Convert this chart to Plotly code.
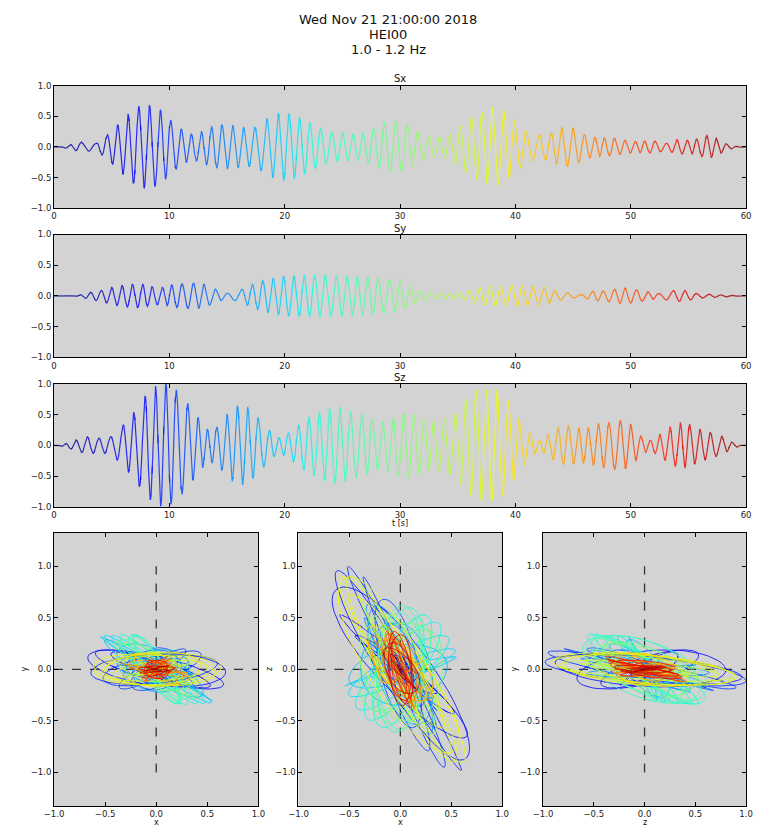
import numpy as np
import plotly.graph_objects as go

# ---------------- data ----------------
TITLE_LINES = ["Wed Nov 21 21:00:00 2018", "HEI00", "1.0 - 1.2 Hz"]
PANEL_TITLES = ["Sx", "Sy", "Sz"]
T_TICKS = [0, 10, 20, 30, 40, 50, 60]
AMP_TICKS = [-1.0, -0.5, 0.0, 0.5, 1.0]

# times [s] and heights of successive positive peaks of each component
SX_PEAK_T = [0.5, 1.41, 2.35, 3.67, 4.61, 5.51, 6.42, 7.35, 8.28, 9.24, 10.12, 11.05, 11.9, 12.78,
             13.66, 14.56, 15.5, 16.43, 17.41, 18.46, 19.45, 20.38, 21.29, 22.19, 23.12, 24.09,
             25.02, 25.93, 26.78, 27.71, 28.64, 29.63, 30.62, 31.5, 32.5, 33.4, 34.3, 35.2, 36.2,
             37.1, 38.0, 39.0, 39.9, 40.9, 42.1, 43.1, 44.0, 45.0, 46.0, 46.9, 47.7, 48.6, 49.5,
             50.4, 51.2, 52.1, 53.1, 54.0, 54.9, 55.7, 56.6, 57.4, 58.3, 59.2, 60.1]
SX_PEAK_A = [0.0, 0.04, 0.08, 0.06, 0.2, 0.36, 0.53, 0.66, 0.68, 0.6, 0.44, 0.29, 0.21, 0.25,
             0.33, 0.36, 0.35, 0.32, 0.32, 0.46, 0.55, 0.54, 0.48, 0.4, 0.31, 0.24,
             0.23, 0.22, 0.23, 0.3, 0.4, 0.42, 0.38, 0.25, 0.17, 0.16, 0.2, 0.35, 0.5,
             0.56, 0.64, 0.58, 0.43, 0.26, 0.2, 0.23, 0.32, 0.31, 0.2, 0.16, 0.15, 0.14, 0.11,
             0.09, 0.1, 0.1, 0.06, 0.12, 0.11, 0.13, 0.19, 0.15, 0.05, 0.01, 0.0]

SY_PEAK_T = [1.3, 2.26, 3.17, 4.1, 5.0, 5.9, 6.8, 7.7, 8.5, 9.4, 10.2, 11.1, 12.1, 13.0, 14.0,
             15.0, 16.3, 17.2, 18.1, 19.0, 19.9, 20.8, 21.7, 22.6, 23.5, 24.5, 25.4, 26.3, 27.2,
             28.1, 29.1, 30.0, 30.9, 31.7, 32.6, 33.5, 34.3, 35.2, 36.0, 36.9, 37.8, 38.7, 39.7,
             40.6, 41.5, 42.5, 43.4, 44.5, 45.7, 46.7, 47.6, 48.6, 49.5, 50.5, 51.5, 52.4, 53.7,
             54.7, 55.7, 56.8, 57.8, 58.8, 59.8]
SY_PEAK_A = [0.0, 0.02, 0.06, 0.09, 0.14, 0.17, 0.19, 0.19, 0.15, 0.14, 0.18, 0.2, 0.21, 0.19, 0.11,
             0.04, 0.11, 0.19, 0.25, 0.29, 0.32, 0.33, 0.33, 0.34, 0.34, 0.33, 0.33, 0.32, 0.3,
             0.29, 0.27, 0.25, 0.16, 0.08, 0.05, 0.05, 0.05, 0.06, 0.09, 0.14, 0.16, 0.15, 0.17,
             0.16, 0.15, 0.14, 0.09, 0.05, 0.02, 0.08, 0.08, 0.11, 0.13, 0.1, 0.07, 0.04, 0.09,
             0.09, 0.04, 0.03, 0.02, 0.01, 0.0]

SZ_PEAK_T = [0.3, 1.0, 1.9, 2.9, 3.9, 4.9, 6.0, 6.9, 7.9, 8.8, 9.7, 10.6, 11.6, 12.5, 13.3, 14.1,
             15.0, 15.9, 16.8, 17.7, 18.7, 19.5, 20.3, 21.2, 22.1, 23.0, 23.9, 24.8, 25.7, 26.7,
             27.6, 28.5, 29.4, 30.3, 31.2, 32.1, 32.9, 33.8, 34.8, 35.7, 36.6, 37.5, 38.4, 39.4,
             40.3, 41.3, 42.1, 42.8, 43.7, 44.6, 45.5, 46.3, 47.2, 48.1, 49.1, 50.0, 50.9, 51.7,
             52.5, 53.4, 54.3, 55.1, 56.0, 56.9, 57.9, 58.8, 59.7]
SZ_PEAK_A = [0.0, 0.03, 0.09, 0.14, 0.12, 0.14, 0.33, 0.53, 0.8, 0.96, 1.0, 0.9, 0.68, 0.45, 0.26, 0.3,
             0.5, 0.64, 0.62, 0.45, 0.24, 0.12, 0.2, 0.33, 0.46, 0.53, 0.6, 0.62, 0.55, 0.5,
             0.43, 0.38, 0.45, 0.54, 0.51, 0.43, 0.39, 0.44, 0.52, 0.74, 0.9, 0.9, 0.9, 0.72,
             0.42, 0.2, 0.07, 0.18, 0.29, 0.32, 0.28, 0.29, 0.35, 0.37, 0.41, 0.34, 0.15, 0.08,
             0.18, 0.3, 0.37, 0.34, 0.26, 0.21, 0.15, 0.05, 0.0]

CROSS = [-1.0, 1.0]       # dashed reference axes in the hodograms
ZERO = [0.0, 0.0]

# ---------------- helpers ----------------
W, H = 771, 832
T_END = 60.0
DT = 0.02
N_SEG = 120

JET_R = ([0.0, 0.35, 0.66, 0.89, 1.0], [0.0, 0.0, 1.0, 1.0, 0.5])
JET_G = ([0.0, 0.125, 0.375, 0.64, 0.91, 1.0], [0.0, 0.0, 1.0, 1.0, 0.0, 0.0])
JET_B = ([0.0, 0.11, 0.34, 0.65, 1.0], [0.5, 1.0, 1.0, 0.0, 0.0])


def jet(v):
    r = np.interp(v, *JET_R)
    g = np.interp(v, *JET_G)
    b = np.interp(v, *JET_B)
    return "rgb(%d,%d,%d)" % (round(r * 255), round(g * 255), round(b * 255))


def waveform(peak_t, peak_a, t):
    """oscillation passing through the read peak heights at the read peak times"""
    cyc = np.interp(t, peak_t, np.arange(len(peak_t)))
    env = np.interp(t, peak_t, peak_a)
    return env * np.cos(2 * np.pi * cyc)


t = np.arange(0, T_END + DT / 2, DT)
sx = waveform(SX_PEAK_T, SX_PEAK_A, t)
sy = waveform(SY_PEAK_T, SY_PEAK_A, t)
sz = waveform(SZ_PEAK_T, SZ_PEAK_A, t)


def fx(p):
    return p / W


def fy(p):
    return 1 - p / H


fig = go.Figure()

# axis placement in window pixels: x domain, y domain (top, bottom)
TS_X = (45, 752.7)
TS_Y = [(81.7, 205.7), (232.3, 356.7), (383.3, 508.3)]
HO_X = [(45, 254), (295, 503.3), (545, 752.7)]
HO_Y = (534.3, 810.7)

axis_common = dict(showgrid=False, zeroline=False, showline=True, linecolor="black",
                   linewidth=1, mirror="ticks", ticks="inside", ticklen=4, tickcolor="black",
                   tickfont=dict(family="DejaVu Sans", size=8.5, color="#222"))

layout_axes = {}
for i in range(3):
    n = i + 1
    layout_axes["xaxis%d" % n] = dict(axis_common, domain=[fx(TS_X[0]), fx(TS_X[1])],
                                      range=[0, T_END], tickvals=T_TICKS, tickformat="d",
                                      anchor="y%d" % n)
    layout_axes["yaxis%d" % n] = dict(axis_common, domain=[fy(TS_Y[i][1]), fy(TS_Y[i][0])],
                                      range=[-1, 1], tickvals=AMP_TICKS, tickformat=".1f",
                                      anchor="x%d" % n)
for i in range(3):
    n = i + 4
    layout_axes["xaxis%d" % n] = dict(axis_common, domain=[fx(HO_X[i][0]), fx(HO_X[i][1])],
                                      range=[-1, 1], tickvals=AMP_TICKS, tickformat=".1f",
                                      anchor="y%d" % n)
    layout_axes["yaxis%d" % n] = dict(axis_common, domain=[fy(HO_Y[1]), fy(HO_Y[0])],
                                      range=[-1.325, 1.325], tickvals=AMP_TICKS, tickformat=".1f",
                                      anchor="x%d" % n)

# dashed cross lines (under the curves)
for n in (4, 5, 6):
    dash = dict(color="#333", width=1.3, dash="dash")
    fig.add_trace(go.Scatter(x=CROSS, y=ZERO, mode="lines", line=dash, hoverinfo="skip",
                             showlegend=False, xaxis="x%d" % n, yaxis="y%d" % n))
    fig.add_trace(go.Scatter(x=ZERO, y=CROSS, mode="lines", line=dash, hoverinfo="skip",
                             showlegend=False, xaxis="x%d" % n, yaxis="y%d" % n))

edges = np.linspace(0, T_END, N_SEG + 1)
pairs_ts = [sx, sy, sz]
pairs_ho = [(sx, sy), (sx, sz), (sz, sy)]
for k in range(N_SEG):
    m = (t >= edges[k] - 1e-9) & (t <= edges[k + 1] + DT + 1e-9)
    col = jet(((edges[k] + edges[k + 1]) / 2) / T_END)
    for i, s in enumerate(pairs_ts):
        fig.add_trace(go.Scatter(x=t[m], y=s[m], mode="lines",
                                 line=dict(color=col, width=1.2), opacity=0.8,
                                 hoverinfo="skip", showlegend=False,
                                 xaxis="x%d" % (i + 1), yaxis="y%d" % (i + 1)))
    for i, (a, b) in enumerate(pairs_ho):
        fig.add_trace(go.Scatter(x=a[m], y=b[m], mode="lines",
                                 line=dict(color=col, width=1.0), opacity=0.8,
                                 hoverinfo="skip", showlegend=False,
                                 xaxis="x%d" % (i + 4), yaxis="y%d" % (i + 4)))

ann = []


def add_text(text, x, y, size, angle=0):
    ann.append(dict(text=text, x=fx(x), y=fy(y), xref="paper", yref="paper",
                    xanchor="center", yanchor="middle", showarrow=False, textangle=angle,
                    borderpad=0,
                    font=dict(family="DejaVu Sans", size=size, color="#111")))


for j, line in enumerate(TITLE_LINES):
    add_text(line, 387, 15 + 15 * j, 13)
for j, name in enumerate(PANEL_TITLES):
    add_text(name, 399, [74, 226, 377][j], 10)
add_text("t [s]", 399, 525, 8)
for lab, x in zip(["x", "x", "z"], [150, 399, 649]):
    add_text(lab, x, 827, 8)
for lab, x in zip(["y", "z", "y"], [15, 266, 516]):
    add_text(lab, x, 672, 8, angle=-90)

fig.update_layout(width=W, height=H, autosize=False, margin=dict(l=0, r=0, t=0, b=0),
                  paper_bgcolor="white", plot_bgcolor="#d3d3d3", showlegend=False,
                  annotations=ann, **layout_axes)

# the page must not add its own body margin around the fixed-size figure
fig.write_html("out.html", config={"responsive": False},
               post_script="document.body.style.margin='0';document.body.style.overflow='hidden';")
